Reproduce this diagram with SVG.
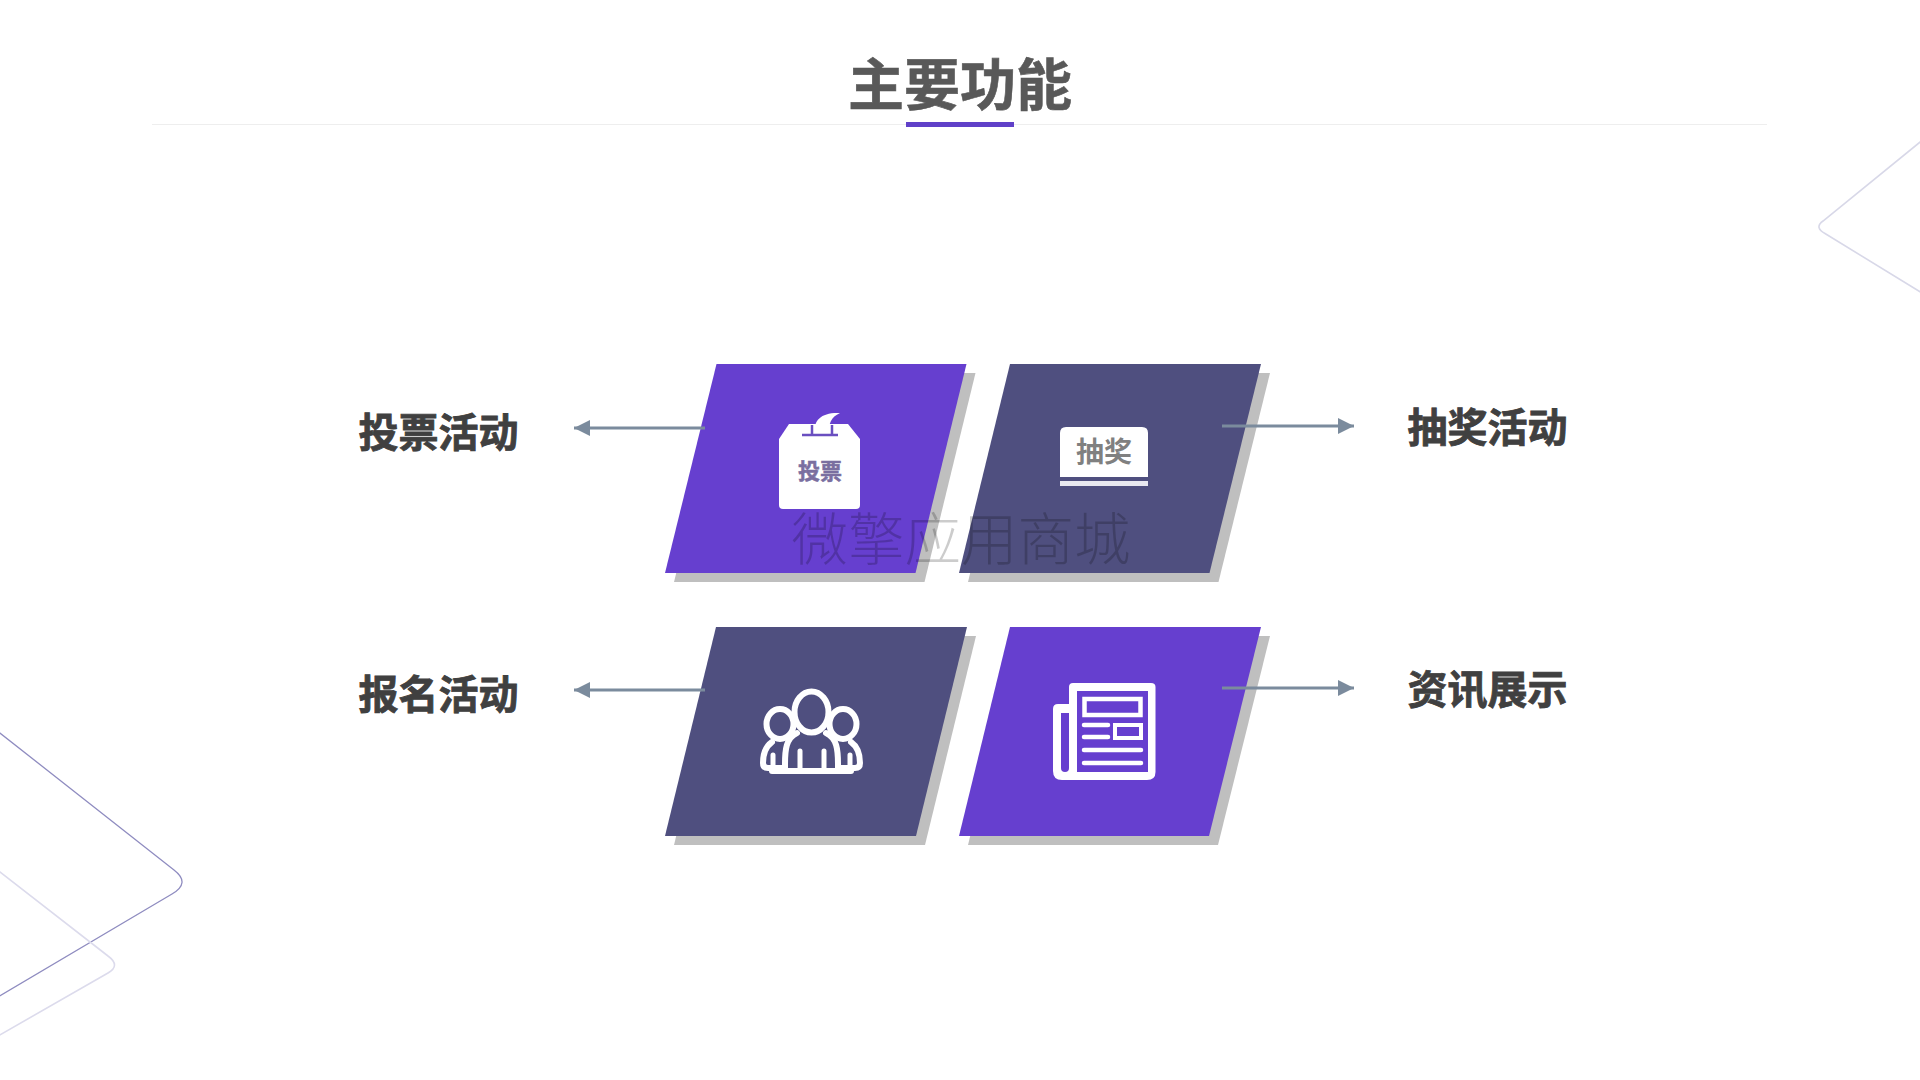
<svg xmlns="http://www.w3.org/2000/svg" width="1920" height="1080" viewBox="0 0 1920 1080">
<style>
text{font-family:"Noto Sans CJK SC","Noto Sans",sans-serif;text-anchor:middle}
.label{font-size:40px;font-weight:700;fill:#404040;stroke:#404040;stroke-width:.8px}
.purple{fill:#663fcf}
.slate{fill:#4f4f7f}
.shadow{fill:#bfbfbf}
.conn{stroke:#7b8b9d;stroke-width:3;fill:none}
.ic{fill:#4f4f7f;stroke:#fff;stroke-width:6;stroke-linejoin:round;stroke-linecap:round}
.deco{fill:none}
</style>
<defs>
<marker id="arrow" viewBox="0 0 16 16" refX="16" refY="8" markerWidth="16" markerHeight="16" markerUnits="userSpaceOnUse" orient="auto-start-reverse"><path d="M0 0L16 8L0 16Z" fill="#7b8b9d"/></marker>
</defs>
<rect width="1920" height="1080" fill="#fff"/>
<g id="decor">
<path class="deco" stroke="#8f8cc0" stroke-width="1.300" d="M-2 731.500L174 870Q191 883 172 894L-2 997"/>
<path class="deco" stroke="#dcdbec" stroke-width="1.600" d="M-2 870.500L108 956Q121 965.500 108 973L-2 1036"/>
<path class="deco" stroke="#d8d8e8" stroke-width="1.600" d="M1922 140.500L1823 221Q1814 227.500 1825 233.500L1922 293"/>
</g>
<g id="title">
<line x1="152" y1="124.500" x2="1767" y2="124.500" stroke="#eeeeee" stroke-width="1"/>
<text x="960" y="104.500" font-size="56" font-weight="700" fill="#595959" stroke="#595959" stroke-width=".6">主要功能</text>
<rect x="906" y="122" width="108" height="5" fill="#6040c8"/>
</g>
<g id="node-vote">
<path class="shadow" d="M725.500 373H975.500L924.500 582H674Z"/>
<path class="purple" d="M716.500 364H966.500L915.500 573H665Z"/>
<path fill="#fff" d="M789 424H848L860 439V505Q860 509 856 509H783Q779 509 779 505V439Z"/>
<path fill="none" stroke="#6a4fc0" stroke-width="2.500" d="M802 435H838M812 435V425M832 435V425"/>
<path fill="#fff" d="M815 433C813 420 822 412 840 413C831 417 828 424 830 433Z"/>
<text x="820" y="479" font-size="22" font-weight="700" fill="#7a6fa0" stroke="#7a6fa0" stroke-width=".5">投票</text>
</g>
<g id="node-lottery">
<path class="shadow" d="M1019 373H1270L1218.500 582H968Z"/>
<path class="slate" d="M1010 364H1261L1209.500 573H959Z"/>
<path fill="#fff" d="M1066 427H1142Q1148 427 1148 433V477H1060V433Q1060 427 1066 427Z"/>
<rect x="1060" y="481" width="88" height="5" fill="#e8e8f0"/>
<text x="1104" y="462" font-size="28" font-weight="700" fill="#808080">抽奖</text>
</g>
<g id="node-signup">
<path class="shadow" d="M725 636H976L925 845H674Z"/>
<path class="slate" d="M716 627H967L916 836H665Z"/>
<g class="ic">
<ellipse cx="780" cy="724" rx="13.500" ry="15"/>
<ellipse cx="843" cy="724" rx="13.500" ry="15"/>
<path fill="none" d="M772 742C765 747 763 755 763 763Q763 768 768 768H855Q860 768 860 763C860 755 858 747 851 742"/>
<path d="M797 733C786 738 785 750 785 764V771H838V764C838 750 837 738 826 733"/>
<ellipse cx="811.500" cy="712" rx="17" ry="20.500"/>
<path fill="none" stroke-width="5" d="M800 751V769M824 751V769M773 755V769M850 755V769"/>
<path fill="none" d="M772 771H851"/>
</g>
</g>
<g id="node-news">
<path class="shadow" d="M1019 636H1270L1218 845H968Z"/>
<path class="purple" d="M1010 627H1261L1209 836H959Z"/>
<path fill="#fff" d="M1073 683H1151Q1155.500 683 1155.500 687V772Q1155.500 780 1147 780H1062Q1053 780 1053 771V709Q1053 704 1058 704H1069V687Q1069 683 1073 683Z"/>
<rect x="1077" y="691" width="71" height="81" fill="#663fcf"/>
<path fill="#663fcf" d="M1061 713H1069V768Q1069 772 1065 772Q1061 772 1061 768Z"/>
<rect x="1084.500" y="699" width="56" height="16" fill="none" stroke="#fff" stroke-width="4.500"/>
<rect x="1115" y="725" width="26" height="13" fill="none" stroke="#fff" stroke-width="4"/>
<path fill="none" stroke="#fff" stroke-width="4.500" stroke-linecap="round" d="M1084 725H1108M1084 737H1108M1084 750H1141M1084 763H1141"/>
</g>
<g id="connectors">
<line class="conn" x1="705" y1="428" x2="574" y2="428" marker-end="url(#arrow)"/>
<line class="conn" x1="1222" y1="426" x2="1354" y2="426" marker-end="url(#arrow)"/>
<line class="conn" x1="705" y1="690" x2="574" y2="690" marker-end="url(#arrow)"/>
<line class="conn" x1="1222" y1="688" x2="1354" y2="688" marker-end="url(#arrow)"/>
</g>
<g id="labels">
<text class="label" x="438.500" y="447">投票活动</text>
<text class="label" x="438.500" y="709">报名活动</text>
<text class="label" x="1487.500" y="442">抽奖活动</text>
<text class="label" x="1487.500" y="704">资讯展示</text>
</g>
<text id="watermark" x="961" y="559.500" font-size="56.500" font-weight="300" fill="#000" fill-opacity=".2">微擎应用商城</text>
</svg>
